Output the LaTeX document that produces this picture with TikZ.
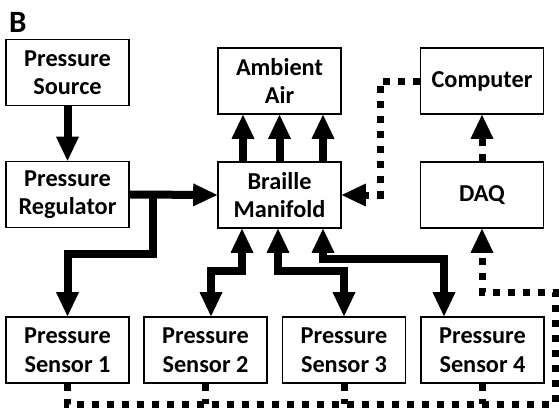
\documentclass[tikz,border=0pt]{standalone}
\usepackage{fontspec}
\setmainfont{Carlito}
\usetikzlibrary{arrows.meta,calc}
\begin{document}
\begin{tikzpicture}[x=1pt,y=-1pt,
  box/.style={draw,line width=1.6pt,minimum width=123pt,minimum height=66pt,inner sep=0pt,align=center,
    font=\fontsize{24.3}{28.5}\selectfont\bfseries},
  fat/.style={line width=8pt,line join=miter},
  fatarrow/.style={fat,-{Triangle[width=23pt,length=24pt,line width=0pt]}},
  fatboth/.style={fat,{Triangle[width=23pt,length=24pt,line width=0pt]}-{Triangle[width=23pt,length=24pt,line width=0pt]}},
  dots/.style={line width=7pt,dash pattern=on 7pt off 8pt},
  dotarrow/.style={dots,-{Triangle[width=23pt,length=24pt,line width=0pt]}}
]
\useasboundingbox (0,0) rectangle (559,413);
\node[anchor=base west,font=\fontsize{31}{31}\selectfont\bfseries,inner sep=0pt] (lab) at (9,32) {B};

\node[box] (src) at (67.5,72.5) {Pressure\\Source};
\node[box] (reg) at (67.5,194.5) {Pressure\\Regulator};
\node[box] (amb) at (279.5,81) {Ambient\\Air};
\node[box] (man) at (279.5,195) {Braille\\Manifold};
\node[box] (comp) at (482,81) {Computer};
\node[box] (daq) at (482,195) {DAQ};
\node[box] (s1) at (67.5,350) {Pressure\\Sensor 1};
\node[box] (s2) at (205.5,350) {Pressure\\Sensor 2};
\node[box] (s3) at (344,350) {Pressure\\Sensor 3};
\node[box] (s4) at (482.5,350) {Pressure\\Sensor 4};

% coordinates for bends
\coordinate (br) at (153,194.5);
\coordinate (brlow) at (153,254);
\coordinate (c2) at (211,271);
\coordinate (c3) at (344,271);
\coordinate (c4) at (444,259);
\coordinate (c5) at (380,195);
\coordinate (c6) at (555,404);
\coordinate (c7) at (482,292);

% solid arrows
\draw[fatarrow] (src.south) -- (reg.north);
\draw[fatarrow] (reg.east) -- (man.west);
\draw[fatarrow] (br) -- (brlow) -| (s1.north);
\draw[fatarrow] ([xshift=-36.5pt]man.north) -- ([xshift=-36.5pt]amb.south);
\draw[fatarrow] (man.north) -- (amb.south);
\draw[fatarrow] ([xshift=43.5pt]man.north) -- ([xshift=43.5pt]amb.south);
\draw[fatboth] ([xshift=-37.5pt]man.south) |- (c2) -- ([xshift=5.5pt]s2.north);
\draw[fatboth] ([xshift=-1.5pt]man.south) |- (c3) -- (s3.north);
\draw[fatboth] ([xshift=43.5pt]man.south) |- (c4) -- ([xshift=-38.5pt]s4.north);

% dotted connections
\draw[dotarrow] (comp.west) -| (c5) -- (man.east);
\draw[dotarrow] (daq.north) -- (comp.south);
\draw[dotarrow] (s1.south) |- (c6) |- (c7) -- (daq.south);
\draw[dots] (s2.south) -- (s2.south |- c6);
\draw[dots] (s3.south) -- (s3.south |- c6);
\draw[dots] (s4.south) -- (s4.south |- c6);
\end{tikzpicture}
\end{document}
